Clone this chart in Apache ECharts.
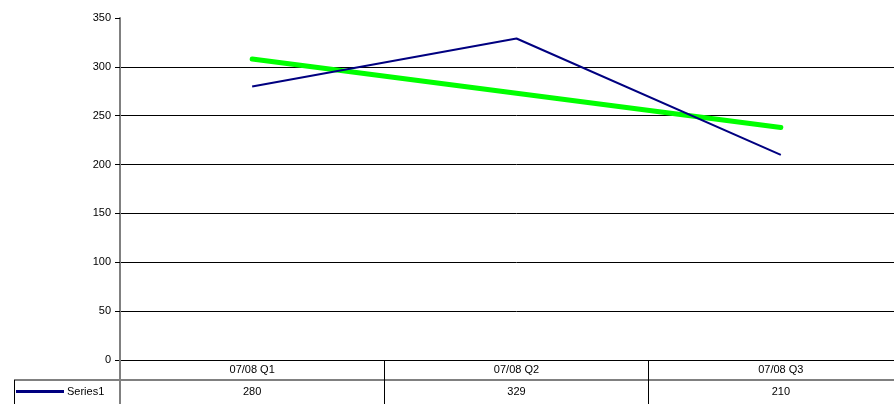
<!DOCTYPE html>
<html>
<head>
<meta charset="utf-8">
<script src="https://cdn.jsdelivr.net/npm/echarts@6/dist/echarts.min.js"></script>
<style>
  html, body { margin: 0; padding: 0; background: #fff; overflow: hidden; }
  /* the plot runs a little past the right edge of the window, as in the original */
  #main { width: 913px; height: 404px; }
</style>
</head>
<body>
<div id="main"></div>
<script>
// chart data
const categories = ["07/08 Q1", "07/08 Q2", "07/08 Q3"];
const series1 = [280, 329, 210];
// linear trend
const trend = [308, 273, 238];
const yTicks = { min: 0, max: 350, interval: 50 };

let myChart = echarts.init(document.getElementById("main"));

let options = {
  animation: false,
  textStyle: { fontFamily: "Liberation Sans, Arial, sans-serif" },
  grid: { left: 120, top: 18, right: 0, height: 342 },
  legend: {
    data: ["Series1"],
    left: 16,
    top: 386,
    padding: 0,
    icon: "rect",
    itemWidth: 48,
    itemHeight: 3,
    itemGap: 2,
    textStyle: { fontSize: 11, color: "#000", padding: [0, 0, 0, -2] },
  },
  xAxis: [
    {
      type: "category",
      data: categories,
      position: "bottom",
      axisLine: { show: true, lineStyle: { color: "#000", width: 1 } },
      axisTick: { show: true, length: 44, lineStyle: { color: "#000" } },
      axisLabel: { fontSize: 11, color: "#000", margin: 4 },
    },
    {
      type: "category",
      data: series1.map(String),
      position: "bottom",
      offset: 20,
      axisLine: { show: true, lineStyle: { color: "#808080", width: 2 } },
      axisTick: { show: false },
      axisLabel: { fontSize: 11, color: "#000", margin: 6 },
    },
  ],
  yAxis: {
    type: "value",
    min: yTicks.min,
    max: yTicks.max,
    interval: yTicks.interval,
    axisLine: { show: true, lineStyle: { color: "#808080", width: 2 } },
    axisTick: { show: true, length: 5, lineStyle: { color: "#000" } },
    axisLabel: { fontSize: 11, color: "#000", margin: 9 },
    splitLine: { show: true, showMaxLine: false, lineStyle: { color: "#000", width: 1 } },
  },
  series: [
    {
      name: "Series1",
      type: "line",
      data: series1,
      showSymbol: false,
      symbol: "none",
      itemStyle: { color: "#000080" },
      lineStyle: { color: "#000080", width: 2 },
      z: 3,
    },
    {
      name: "Trend",
      type: "line",
      data: trend,
      showSymbol: false,
      symbol: "none",
      itemStyle: { color: "#00ff00" },
      lineStyle: { color: "#00ff00", width: 5, cap: "round" },
      z: 2,
    },
  ],
  graphic: [
    // left part of the data table
    { type: "line", shape: { x1: 14, y1: 380, x2: 120, y2: 380 }, style: { stroke: "#808080", lineWidth: 2 } },
    { type: "line", shape: { x1: 14.5, y1: 380, x2: 14.5, y2: 404 }, style: { stroke: "#000", lineWidth: 1 } },
    { type: "line", shape: { x1: 120, y1: 360, x2: 120, y2: 404 }, style: { stroke: "#808080", lineWidth: 2 }, z: 10 },
  ],
};

myChart.setOption(options);
</script>
</body>
</html>
